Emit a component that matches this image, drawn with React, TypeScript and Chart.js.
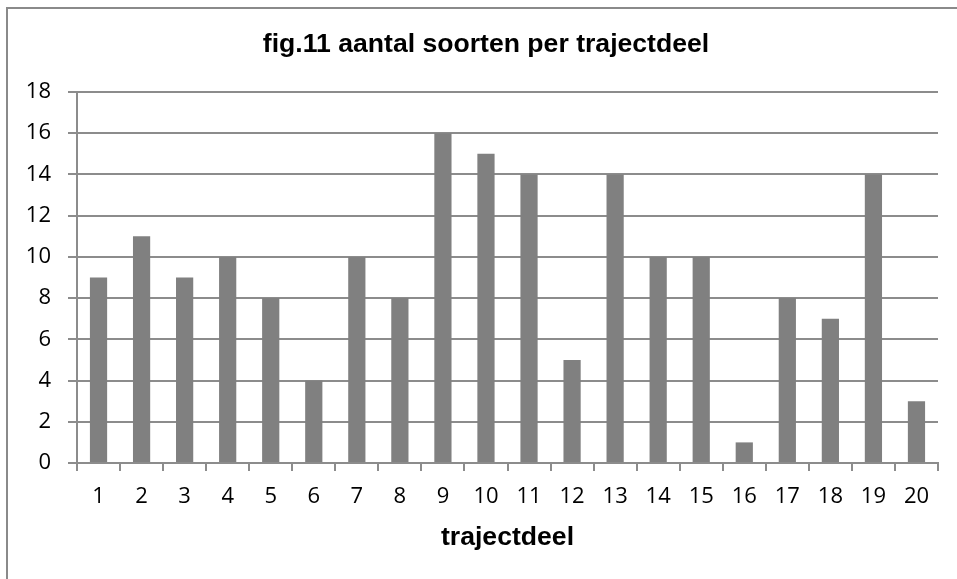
import React, { useEffect, useRef } from "react";
import { Chart, registerables } from "chart.js";

Chart.register(...registerables);

const titleText = "fig.11 aantal soorten per trajectdeel";
const xAxisTitle = "trajectdeel";
const categories = ["1","2","3","4","5","6","7","8","9","10","11","12","13","14","15","16","17","18","19","20"];
const soorten = [9, 11, 9, 10, 8, 4, 10, 8, 16, 15, 14, 5, 14, 10, 10, 1, 8, 7, 14, 3];
const yMin = 0;
const yMax = 18;
const yStep = 2;

const GRID = "#8c8c8c";
const BAR = "#808080";

const decorPlugin = {
  id: "decor",
  afterDraw(chart: any) {
    const ctx = chart.ctx;
    const area = chart.chartArea;
    ctx.save();
    ctx.strokeStyle = "#8a8a8a";
    ctx.lineWidth = 2;
    ctx.beginPath();
    ctx.moveTo(7, 1000);
    ctx.lineTo(7, 8);
    ctx.lineTo(1000, 8);
    ctx.stroke();
    ctx.fillStyle = "#000";
    ctx.textAlign = "center";
    ctx.textBaseline = "alphabetic";
    ctx.font = "bold 26.6px 'Liberation Sans', Arial, sans-serif";
    ctx.fillText(titleText, 486, 52);
    ctx.fillText(xAxisTitle, (area.left + area.right) / 2, 545);
    ctx.restore();
  },
};

export default function App() {
  const ref = useRef<HTMLCanvasElement | null>(null);

  useEffect(() => {
    document.body.style.margin = "0";
    const canvas = ref.current;
    if (!canvas) return;
    const chart = new Chart(canvas, {
      type: "bar",
      data: {
        labels: categories,
        datasets: [
          {
            label: "aantal soorten",
            data: soorten,
            backgroundColor: BAR,
            borderWidth: 0,
            barPercentage: 0.4,
            categoryPercentage: 1,
          },
        ],
      },
      options: {
        responsive: false,
        animation: false,
        devicePixelRatio: 1,
        layout: { padding: { top: 92, right: 19, left: 0, bottom: 0 } },
        plugins: {
          legend: { display: false },
          title: { display: false },
          tooltip: { enabled: false },
        },
        scales: {
          x: {
            offset: true,
            grid: {
              offset: true,
              drawOnChartArea: false,
              drawTicks: true,
              tickLength: 8,
              color: GRID,
              lineWidth: 2,
            },
            border: { display: true, color: GRID, width: 2 },
            ticks: {
              color: "#000",
              padding: 13,
              maxRotation: 0,
              autoSkip: false,
              font: { family: "'Open Sans', sans-serif", size: 22 },
            },
            afterFit(scale: any) {
              scale.height = 116;
            },
          },
          y: {
            min: yMin,
            max: yMax,
            grid: {
              color: GRID,
              lineWidth: 2,
              drawTicks: true,
              tickLength: 9,
            },
            border: { display: true, color: GRID, width: 2 },
            ticks: {
              stepSize: yStep,
              color: "#000",
              padding: 17,
              font: { family: "'Open Sans', sans-serif", size: 22 },
            },
            afterFit(scale: any) {
              scale.width = 77;
            },
          },
        },
      },
      plugins: [decorPlugin],
    });
    return () => chart.destroy();
  }, []);

  return (
    <div style={{ width: 957, height: 579, background: "#fff" }}>
      <canvas ref={ref} width={957} height={579} style={{ display: "block" }} />
    </div>
  );
}
